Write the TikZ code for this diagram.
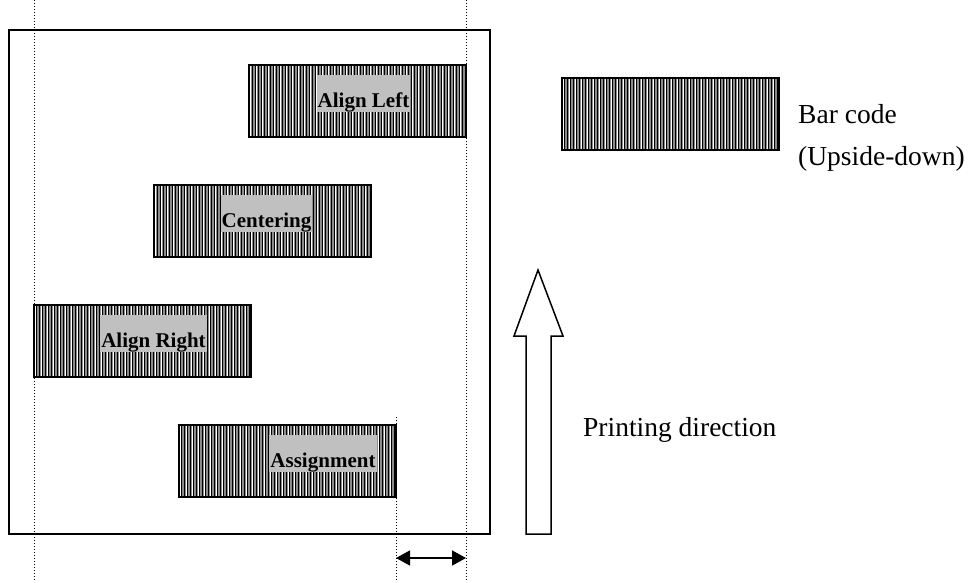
\documentclass[tikz,border=0pt]{standalone}
\usepackage{fontspec}
\setmainfont{Liberation Serif}
\usetikzlibrary{arrows.meta,calc}
\definecolor{labelgray}{RGB}{192,192,192}
\definecolor{stripegray}{RGB}{140,140,140}
\tikzset{
  barcode/.style={draw=black, line width=2pt, minimum width=217pt, minimum height=72pt,
    inner sep=0pt, fill=stripegray,
    path picture={
      \foreach \k in {0,...,73}{
        \draw[black, line width=1pt]
          ([xshift=\k*3pt]path picture bounding box.south west) --
          ([xshift=\k*3pt]path picture bounding box.north west);
      }
      \foreach \k in {0,...,36}{
        \draw[white, line width=0.6pt]
          ([xshift=\k*6pt+1.6pt]path picture bounding box.south west) --
          ([xshift=\k*6pt+1.6pt]path picture bounding box.north west);
      }
    }},
  barlabel/.style={fill=labelgray, anchor=base, inner xsep=1pt, inner ysep=0pt,
    text height=32pt, text depth=5pt, font=\fontsize{21}{24}\selectfont\bfseries},
  plaintext/.style={anchor=base west, inner sep=0pt, font=\fontsize{27.5}{32}\selectfont},
  guide/.style={line width=1pt, dash pattern=on 1pt off 2pt},
  frame/.style={draw=black, line width=1.5pt, minimum width=481pt, minimum height=504pt, inner sep=0pt},
}
\begin{document}
\begin{tikzpicture}[x=1pt,y=-1pt]
\useasboundingbox (0,0) rectangle (975,582);
% paper
\node[frame] (paper) at (249.5,282) {};
% guide lines
\coordinate (g1t) at (34,0);   \coordinate (g1b) at (34,582);
\coordinate (g2t) at (466,0);  \coordinate (g2b) at (466,582);
\coordinate (g3t) at (396,417); \coordinate (g3b) at (396,582);
\draw[guide] (g1t) -- (g1b);
\draw[guide] (g2t) -- (g2b);
\draw[guide] (g3t) -- (g3b);
% bars
\node[barcode] (bleft)  at (357.5,101) {};
\node[barcode] (bcent)  at (262.5,221) {};
\node[barcode] (bright) at (142,341) {};
\node[barcode] (bassg)  at (287,461) {};
\node[barcode] (blegend) at (670,113.5) {};
% labels
\node[barlabel] (lleft)  at (363.5,107) {Align Left};
\node[barlabel] (lcent)  at (266.5,227) {Centering};
\node[barlabel] (lright) at (153.5,347) {Align Right};
\node[barlabel] (lassg)  at (323,467) {Assignment};
% legend text
\node[plaintext] (tbar) at (798,123) {Bar code};
\node[plaintext] (tups) at (798,165) {(Upside-down)};
\node[plaintext] (tdir) at (583,436) {Printing direction};
% printing direction arrow
\draw[line width=1.5pt, line join=miter]
  (538,270) -- (563,336) -- (551,336) -- (551,534) -- (526,534) -- (526,336) -- (514,336) -- cycle;
% offset arrow
\coordinate (oa) at (396,558);
\coordinate (ob) at (466,558);
\draw[line width=1.5pt, {Triangle[length=14pt,width=15pt]}-{Triangle[length=14pt,width=15pt]}] (oa) -- (ob);
\end{tikzpicture}
\end{document}
